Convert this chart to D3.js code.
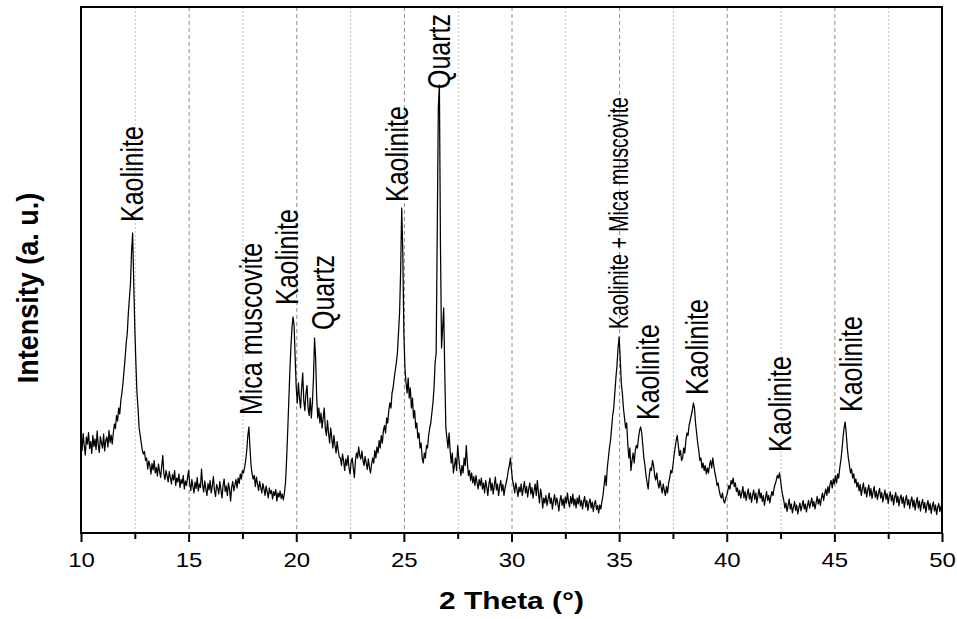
<!DOCTYPE html>
<html>
<head>
<meta charset="utf-8">
<script src="https://cdnjs.cloudflare.com/ajax/libs/d3/7.8.5/d3.min.js"></script>
<style>
  body{margin:0;background:#fff;}
  svg{display:block;font-family:"Liberation Sans",Arial,sans-serif;}
  .trace{fill:none;stroke:#000;stroke-width:1.25;stroke-linejoin:round;}
  .frame{fill:none;stroke:#000;stroke-width:2;}
  .gridMajor{stroke:#8c8c8c;stroke-width:1;stroke-dasharray:4,3;}
  .gridMinor{stroke:#c4c4c4;stroke-width:1;stroke-dasharray:2,2;}
  .peakLabel{font-size:25px;fill:#000;}
  .peakLabel.combined{font-size:23px;}
  .axisTitle{font-size:23px;font-weight:bold;fill:#000;}
  .tickLabel{font-size:20px;fill:#000;}
</style>
</head>
<body>
<main></main>
<script>
//scan is sampled every 0.05 degrees, each block starts at its own angle
const stepSize = 0.05;
const scanStarts = [10.00, 11.50, 12.50, 13.05, 15.00, 17.60, 18.00, 19.50, 20.05, 20.80,
  21.05, 22.05, 23.65, 25.00, 26.50, 27.15, 28.55, 29.90, 30.10, 31.55,
  34.35, 35.05, 36.55, 37.50, 38.50, 40.00, 42.30, 42.65, 44.65, 46.00];
const scanCounts = [
  [372,330,398,350,312,384,356,402,338,366,318,390,346,376,334,408,352,322,386,360,340,396,328,370,384,344,410,362,392,356],
  [400,436,418,470,448,500,476,530,560,600,650,700,760,800,880,940,1000,1130,1200,1000],
  [820,680,560,500,420,390,360,330,316,326,290],
  [300,256,288,270,236,278,252,290,240,262,228,276,246,222,268,310,236,214,250,228,
   204,246,222,196,234,212,250,190,220,204,236,182,214,198,230,176,208,190,222],
  [250,196,170,214,186,160,204,178,222,168,196,182,256,190,164,208,176,150,198,172,
   210,160,188,226,170,146,194,180,156,206,174,140,190,216,166,188,150,200,176,128,
   184,206,168,192,214,180,220,198,236,216,250,240],
  [262,290,330,390,424,340,270,236],
  [216,230,186,224,196,170,206,182,160,198,176,150,188,164,140,180,158,170,136,166,
   150,174,128,160,144,168,138,156,132,160],
  [200,290,400,520,640,740,820,864,830,700,580],
  [520,600,540,500,580,640,530,490,560,590,500,470,540,460,520],
  [620,780,700,540,460],
  [500,440,480,420,460,500,420,390,450,400,360,420,380,340,390,350,320,366,330,304],
  [300,270,316,288,250,296,270,310,262,236,284,300,260,222,290,320,300,344,310,296,
   328,290,270,306,280,254,296,262,240,276,300,280],
  [330,300,344,320,370,340,390,360,410,430,400,460,440,490,520,500,560,580,620,650,
   680,720,800,880,1050,1300,1120],
  [800,660,600,560,620,540,580,500,540,460,490,420,440,380,400,340,360,300,280,320,
   300,350,340,390,420,440,480,520,580,680],
  [720,1200,1700,1792,1150,740,820,900,640,420,380,340,400],
  [330,280,320,240,270,300,250,350,300,260,230,270,240,300,270,350,280,230,250,210,
   240,200,226,190,230,200,176,214],
  [190,220,176,200,160,210,184,150,196,220,170,200,156,190,224,172,196,150,186,210,
   168,194,150,180,200,220,250],
  [270,300,250,210],
  [190,160,200,176,146,184,164,196,150,178,206,160,186,144,176,200,156,182,140,170,
   196,150,210,160,120,176,150,100,140],
  [120,150,110,136,160,118,140,96,130,154,112,140,120,88,130,150,110,136,100,144,
   120,160,124,104,146,118,156,110,136,100,140,116,150,108,130,96,126,146,104,130,
   90,120,136,100,124,86,116,130,94,110,80,112,96,126,150,190],
  [230,190,260,300,340,370,420,470,500,560,620,670,740,784],
  [700,600,560,500,460,420,440,360,300,340,250,290,320,280,330,350,340,380,410,424,
   400,350,300,270,230,200,176,230,260,250],
  [290,270,230,212,240,200,180,210,184,160,196,170,150,186,160,200,220,250,240],
  [270,310,340,370,390,350,310,330,290,300,340,320,370,400,390,430,450,470,490,520],
  [500,440,400,360,330,290,300,260,280,250,270,236,260,240,270,290,260,300,270,240,
   220,190,200,170,150,140,160,130,120,140],
  [150,170,190,176,210,196,220,186,200,166,180,150,170,140,160,186,140,166,130,156,
   176,136,160,122,150,172,134,160,120,150,176,140,160,126,150,110,140,166,130,150,
   120,146,166,150,180,196],
  [210,230,220,240,210,176,150],
  [130,100,120,86,110,136,96,116,80,104,126,90,112,76,100,120,88,110,130,96,
   116,84,110,130,100,120,140,106,126,96,120,146,116,136,110,140,160,130,156,176],
  [150,186,160,196,210,180,216,196,230,200,236,220,260,290,330,380,420,444,400,340,
   300,270,240,256,220,236,200],
  [216,184,202,168,194,150,178,200,158,182,144,172,192,148,178,138,164,186,142,168,
   134,158,178,140,162,124,150,172,134,158,118,148,164,128,152,112,142,162,122,148,
   108,138,152,118,144,102,132,150,112,134,98,128,144,104,132,92,122,142,100,128,
   88,118,134,98,122,82,112,130,92,118,78,108,124,88,112,74,102,118,86,106,
   82]
];

//x axis ticks
const majorTicks = [10, 15, 20, 25, 30, 35, 40, 45, 50];
const minorTicks = [12.5, 17.5, 22.5, 27.5, 32.5, 37.5, 42.5, 47.5];

//peak annotations: name, 2 theta of the label, counts level where the label starts
const peakNames = ["Kaolinite", "Mica muscovite", "Kaolinite", "Quartz", "Kaolinite", "Quartz",
  "Kaolinite + Mica muscovite", "Kaolinite", "Kaolinite", "Kaolinite", "Kaolinite"];
const peakAngles = [12.39, 17.91, 19.57, 21.26, 24.69, 26.63, 34.97, 36.36, 38.61, 42.47, 45.77];
const peakLevels = [1244, 472, 912, 812, 1324, 1776, 816, 452, 552, 324, 484];

(function(){
  const width = 957,
  height = 619,
  margin = {top: 7, right: 15, bottom: 86, left: 81},
  innerWidth = width - margin.left - margin.right,
  innerHeight = height - margin.top - margin.bottom;

  //join the blocks into one list of points
  let scan = [];
  scanStarts.forEach(function(start, b){
    scanCounts[b].forEach(function(c, i){
      scan.push({angle: +(start + i * stepSize).toFixed(2), counts: c});
    });
  });

  const x = d3.scaleLinear()
  .domain([10, 50])
  .range([0, innerWidth]);

  const y = d3.scaleLinear()
  .domain([0, 2104])
  .range([innerHeight, 0]);

  const svg = d3.select("main")
  .append("svg")
  .attr("width", width)
  .attr("height", height);

  const plot = svg.append("g")
  .attr("transform", "translate(" + margin.left + "," + margin.top + ")");

  //vertical grid lines
  plot.selectAll(".gridMinor")
  .data(minorTicks)
  .enter()
  .append("line")
  .attr("class", "gridMinor")
  .attr("x1", d => x(d) + 0.5)
  .attr("x2", d => x(d) + 0.5)
  .attr("y1", 0)
  .attr("y2", innerHeight);

  plot.selectAll(".gridMajor")
  .data(majorTicks.slice(1, -1))
  .enter()
  .append("line")
  .attr("class", "gridMajor")
  .attr("x1", d => x(d) + 0.5)
  .attr("x2", d => x(d) + 0.5)
  .attr("y1", 0)
  .attr("y2", innerHeight);

  //diffraction trace
  const line = d3.line()
  .x(d => x(d.angle))
  .y(d => y(d.counts));

  plot.append("path")
  .datum(scan)
  .attr("class", "trace")
  .attr("d", line);

  //peak labels
  const labels = plot.selectAll(".peakLabel")
  .data(peakNames)
  .enter()
  .append("text")
  .attr("class", "peakLabel")
  .attr("transform", (d, i) => "translate(" + x(peakAngles[i]) + "," + y(peakLevels[i]) + ") rotate(-90) scale(1,1.22)")
  .attr("dy", "0.35em")
  .text(d => d);

  //the combined phase label is squeezed along its length
  labels.filter(d => d.indexOf("+") > -1)
  .classed("combined", true)
  .attr("textLength", 232)
  .attr("lengthAdjust", "spacingAndGlyphs");

  //minor and major ticks on the bottom axis
  const minorAxis = plot.append("g")
  .attr("transform", "translate(0," + innerHeight + ")")
  .call(d3.axisBottom(x).tickValues(minorTicks).tickSize(6).tickSizeOuter(0).tickFormat(""));

  const majorAxis = plot.append("g")
  .attr("transform", "translate(0," + innerHeight + ")")
  .call(d3.axisBottom(x).tickValues(majorTicks).tickSize(9).tickSizeOuter(0));

  [minorAxis, majorAxis].forEach(function(g){
    g.attr("font-family", null).attr("font-size", null);
    g.select(".domain").remove();
    g.selectAll("line").attr("stroke", "#000").attr("stroke-width", 2);
  });

  majorAxis.selectAll("text")
  .attr("class", "tickLabel")
  .attr("y", 34)
  .attr("dy", null)
  .attr("fill", null)
  .attr("transform", "scale(1.2,1)");

  //plot frame
  plot.append("rect")
  .attr("class", "frame")
  .attr("width", innerWidth)
  .attr("height", innerHeight);

  //axis titles
  svg.append("text")
  .attr("class", "axisTitle")
  .attr("text-anchor", "middle")
  .attr("transform", "translate(" + (margin.left + innerWidth / 2) + ",609) scale(1.3,1)")
  .text("2 Theta (°)");

  svg.append("text")
  .attr("class", "axisTitle")
  .attr("text-anchor", "middle")
  .attr("dy", "0.35em")
  .attr("transform", "translate(27,288) rotate(-90) scale(1,1.12)")
  .style("font-size", "27px")
  .text("Intensity (a. u.)");
})();
</script>
</body>
</html>
